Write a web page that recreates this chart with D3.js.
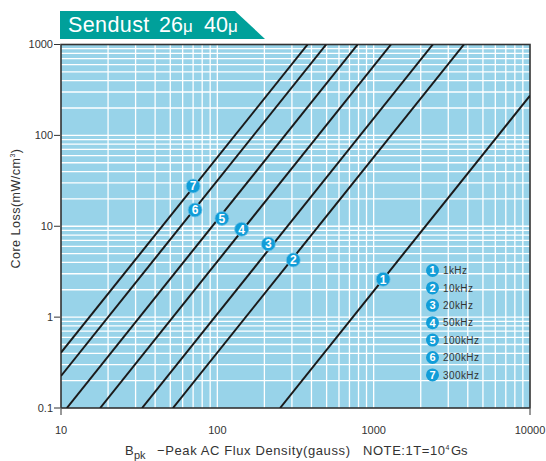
<!DOCTYPE html>
<html>
<head>
<meta charset="utf-8">
<script src="https://cdn.jsdelivr.net/npm/d3@7"></script>
<style>
  body { margin: 0; background: #fff; }
  svg { display: block; font-family: "Liberation Sans", Arial, sans-serif; }
</style>
</head>
<body>
<svg id="chart"></svg>
<script>
const w = 546;
const h = 461;
const margin = { top: 44.5, right: 16, bottom: 53, left: 61 };

// frequencies for the 7 lines
const freqs = ["1kHz", "10kHz", "20kHz", "50kHz", "100kHz", "200kHz", "300kHz"];
const lineStart = [[252, 0.1], [52, 0.1], [33, 0.1], [17.8, 0.1], [10.9, 0.1], [10, 0.225], [10, 0.407]];
const lineEnd = [[10000, 274], [3780, 1000], [2390, 1000], [1290, 1000], [790, 1000], [497, 1000], [378, 1000]];
// numbered marker sitting on each line
const markerB = [1150, 306, 212, 143, 107, 72, 70];
const markerP = [2.61, 4.26, 6.38, 9.27, 12.2, 15.1, 27.7];

const xTicks = [10, 100, 1000, 10000];
const yTicks = [0.1, 1, 10, 100, 1000];

const svg = d3.select("#chart").attr("width", w).attr("height", h);

const x = d3.scaleLog().domain([10, 10000]).range([margin.left, w - margin.right]);
const y = d3.scaleLog().domain([0.1, 1000]).range([h - margin.bottom, margin.top]);

// title banner
svg.append("polygon")
   .attr("points", "60,11 235,11 265,39 60,39")
   .attr("fill", "#00a09a");
const title = svg.append("text")
   .attr("y", 32)
   .attr("fill", "#fff")
   .style("font-size", "21.5px");
title.append("tspan").attr("x", 68).style("letter-spacing", "0.4px").text("Sendust");
title.append("tspan").attr("x", 159).text("26");
title.append("tspan").attr("x", 183).style("font-size", "17px").text("\u03bc");
title.append("tspan").attr("x", 204).text("40");
title.append("tspan").attr("x", 228).style("font-size", "17px").text("\u03bc");

// plot background
svg.append("rect")
   .attr("x", x(10)).attr("y", y(1000))
   .attr("width", x(10000) - x(10)).attr("height", y(0.1) - y(1000))
   .attr("fill", "#98d3e9");

// minor grid
const xGrid = [];
const yGrid = [];
for (let d = 10; d < 10000; d *= 10) for (let k = 2; k <= 10; k++) xGrid.push(d * k);
for (let d = 0.1; d < 1000; d *= 10) for (let k = 2; k <= 10; k++) yGrid.push(d * k);

svg.append("g")
   .selectAll("line")
   .data(xGrid.filter(v => v < 10000))
   .enter()
   .append("line")
   .attr("x1", d => x(d)).attr("x2", d => x(d))
   .attr("y1", y(1000)).attr("y2", y(0.1))
   .attr("stroke", "#fff").attr("stroke-width", 1.3);

svg.append("g")
   .selectAll("line")
   .data(yGrid.filter(v => v < 1000))
   .enter()
   .append("line")
   .attr("x1", x(10)).attr("x2", x(10000))
   .attr("y1", d => y(d)).attr("y2", d => y(d))
   .attr("stroke", "#fff").attr("stroke-width", 1.3);

// frame
svg.append("rect")
   .attr("x", x(10)).attr("y", y(1000))
   .attr("width", x(10000) - x(10)).attr("height", y(0.1) - y(1000))
   .attr("fill", "none").attr("stroke", "#333").attr("stroke-width", 1.6);

// loss lines
svg.append("clipPath").attr("id", "plotclip")
   .append("rect")
   .attr("x", x(10)).attr("y", y(1000))
   .attr("width", x(10000) - x(10)).attr("height", y(0.1) - y(1000));

svg.append("g")
   .attr("clip-path", "url(#plotclip)")
   .selectAll("line")
   .data(freqs)
   .enter()
   .append("line")
   .attr("x1", (d, i) => x(lineStart[i][0]))
   .attr("y1", (d, i) => y(lineStart[i][1]))
   .attr("x2", (d, i) => x(lineEnd[i][0]))
   .attr("y2", (d, i) => y(lineEnd[i][1]))
   .attr("stroke", "#1a1a1a").attr("stroke-width", 2);

// markers on lines
const marks = svg.append("g")
   .selectAll("g")
   .data(freqs)
   .enter()
   .append("g")
   .attr("transform", (d, i) => `translate(${x(markerB[i])},${y(markerP[i])})`);
marks.append("circle").attr("r", 7).attr("fill", "#119dd8").attr("stroke", "#6cc3e8").attr("stroke-width", 0.8);
marks.append("text")
     .attr("text-anchor", "middle").attr("dy", "0.36em")
     .attr("fill", "#fff").style("font-size", "12px").style("font-weight", "bold")
     .text((d, i) => i + 1);

// legend
const legend = svg.append("g")
   .selectAll("g")
   .data(freqs)
   .enter()
   .append("g")
   .attr("transform", (d, i) => `translate(432.5,${270.5 + i * 17.4})`);
legend.append("circle").attr("r", 6.5).attr("fill", "#119dd8");
legend.append("text")
      .attr("text-anchor", "middle").attr("dy", "0.36em")
      .attr("fill", "#fff").style("font-size", "11px").style("font-weight", "bold")
      .text((d, i) => i + 1);
legend.append("text")
      .attr("x", 10.5).attr("dy", "0.36em")
      .attr("fill", "#333").style("font-size", "10px").style("letter-spacing", "0.4px")
      .text(d => d);

// y axis ticks and labels
const yAxis = svg.append("g").selectAll("g").data(yTicks).enter().append("g");
yAxis.append("line")
     .attr("x1", x(10) - 7).attr("x2", x(10) - 1)
     .attr("y1", d => y(d)).attr("y2", d => y(d))
     .attr("stroke", "#333").attr("stroke-width", 1);
yAxis.append("text")
     .attr("x", x(10) - 8).attr("y", d => y(d)).attr("dy", "0.35em")
     .attr("text-anchor", "end").attr("fill", "#333")
     .style("font-size", "11px")
     .text(d => d3.format("~g")(d));

// x axis ticks (only ends) and labels
svg.append("g").selectAll("line").data([10, 10000]).enter().append("line")
   .attr("x1", d => x(d)).attr("x2", d => x(d))
   .attr("y1", y(0.1) + 1).attr("y2", y(0.1) + 7)
   .attr("stroke", "#333").attr("stroke-width", 1);
svg.append("g").selectAll("text").data(xTicks).enter().append("text")
   .attr("x", d => x(d)).attr("y", 434)
   .attr("text-anchor", "middle").attr("fill", "#333")
   .style("font-size", "11px")
   .text(d => d);

// axis titles
const xt = svg.append("g").attr("fill", "#333").style("font-size", "13px");
xt.append("text").attr("x", 125).attr("y", 455).text("B");
xt.append("text").attr("x", 134).attr("y", 459).style("font-size", "11px").text("pk");
xt.append("text").attr("x", 157).attr("y", 455)
  .attr("textLength", 193).attr("lengthAdjust", "spacing")
  .text("\u2212Peak AC Flux Density(gauss)");
xt.append("text").attr("x", 363).attr("y", 455)
  .attr("textLength", 82).attr("lengthAdjust", "spacing")
  .text("NOTE:1T=10");
xt.append("text").attr("x", 445.5).attr("y", 450).style("font-size", "7px").text("4");
xt.append("text").attr("x", 451).attr("y", 455).text("Gs");

const yt = svg.append("text")
   .attr("transform", "translate(20,208.5) rotate(-90)")
   .attr("text-anchor", "middle").attr("fill", "#333")
   .style("font-size", "12.5px").style("letter-spacing", "0.5px");
yt.append("tspan").text("Core Loss(mW/cm");
yt.append("tspan").attr("dy", -5).style("font-size", "7px").text("3");
yt.append("tspan").attr("dy", 5).text(")");
</script>
</body>
</html>
